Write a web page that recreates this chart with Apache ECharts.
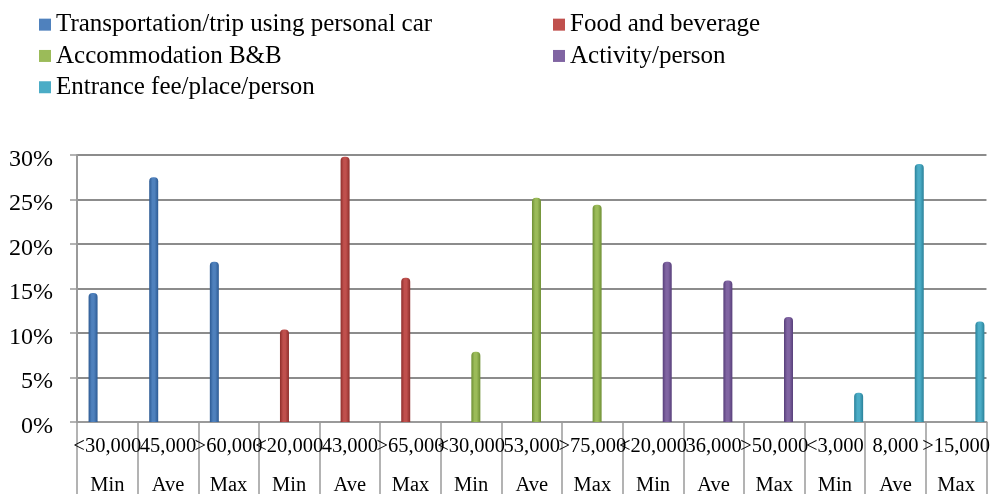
<!DOCTYPE html>
<html>
<head>
<meta charset="utf-8">
<script src="https://cdn.jsdelivr.net/npm/echarts@6/dist/echarts.min.js"></script>
<style>html,body{margin:0;padding:0;background:#fff;}#c{width:993px;height:496px;}</style>
</head>
<body>
<div id="c"></div>
<script>
const rangeLabels = ['<30,000','45,000','>60,000','<20,000','43,000','>65,000','<30,000','53,000','>75,000','<20,000','36,000','>50,000','<3,000','8,000','>15,000'];
const statLabels = ['Min','Ave','Max','Min','Ave','Max','Min','Ave','Max','Min','Ave','Max','Min','Ave','Max'];
const seriesNames = ['Transportation/trip using personal car','Food and beverage','Accommodation B&B','Activity/person','Entrance fee/place/person'];
const transport = [0.145,0.275,0.180,null,null,null,null,null,null,null,null,null,null,null,null];
const food = [null,null,null,0.104,0.298,0.162,null,null,null,null,null,null,null,null,null];
const accommodation = [null,null,null,null,null,null,0.079,0.252,0.244,null,null,null,null,null,null];
const activity = [null,null,null,null,null,null,null,null,null,0.180,0.159,0.118,null,null,null];
const entrance = [null,null,null,null,null,null,null,null,null,null,null,null,0.033,0.290,0.113];
const colors = ['#4F81BD','#C0504D','#9BBB59','#8064A2','#4BACC6'];
const darks = ['#2C5A93','#8E2E2B','#6E8F34','#573F7A','#2A8199'];
const allData = [transport, food, accommodation, activity, entrance];

const font = '"Liberation Serif","Times New Roman",serif';
function legendItem(i){ return {name: seriesNames[i], icon:'rect', itemStyle:{color:colors[i]}}; }
const legendText = {fontFamily:font,fontSize:25,color:'#000',lineHeight:31.3};
const barSeries = allData.map(function(d,i){
  return {
    name: seriesNames[i], type:'bar', data:d, barWidth:9, barGap:'5.5%',
    itemStyle:{
      borderRadius:[4,4,0,0],
      color:new echarts.graphic.LinearGradient(0,0,1,0,[
        {offset:0,color:darks[i]},{offset:0.35,color:colors[i]},
        {offset:0.6,color:colors[i]},{offset:1,color:darks[i]}])
    }
  };
});
// empty spacer slot (reproduces the depth offset of the original clustered layout)
barSeries.unshift({name:'spacer', type:'bar', data:[], barWidth:9, barGap:'5.5%', silent:true});

const chart = echarts.init(document.getElementById('c'));
chart.setOption({
  animation:false,
  legend:[
    {orient:'vertical', left:39, top:9, padding:0, itemWidth:12, itemHeight:12, itemGap:0,
     data:[legendItem(0),legendItem(2),legendItem(4)], textStyle:legendText},
    {orient:'vertical', left:553, top:9, padding:0, itemWidth:12, itemHeight:12, itemGap:0,
     data:[legendItem(1),legendItem(3)], textStyle:legendText}
  ],
  grid:{left:77, right:3, top:155, bottom:72, containLabel:false},
  xAxis:{
    type:'category', data: rangeLabels,
    axisLine:{lineStyle:{color:'#9a9a9a',width:2}},
    axisTick:{show:true, interval:0, length:72, lineStyle:{color:'#9a9a9a',width:1.5}},
    axisLabel:{interval:0, margin:5, hideOverlap:false,
      formatter:function(v,i){return '{a|'+v+'}\n{b|'+statLabels[i]+'}';},
      rich:{a:{fontFamily:font,fontSize:20.5,color:'#000',lineHeight:39},
            b:{fontFamily:font,fontSize:20.5,color:'#000',lineHeight:39}}}
  },
  yAxis:{
    type:'value', min:0, max:0.30, interval:0.05,
    axisLine:{show:true,lineStyle:{color:'#9a9a9a',width:2}},
    axisTick:{show:true,length:7,lineStyle:{color:'#9a9a9a',width:1.5}},
    splitLine:{lineStyle:{color:'#8c8c8c',width:2}},
    axisLabel:{margin:24,
      formatter:function(v){return '{v|'+Math.round(v*100)+'%}';},
      rich:{v:{fontFamily:font, fontSize:24, color:'#000', padding:[9,0,0,0]}}}
  },
  series: barSeries
});
</script>
</body>
</html>
